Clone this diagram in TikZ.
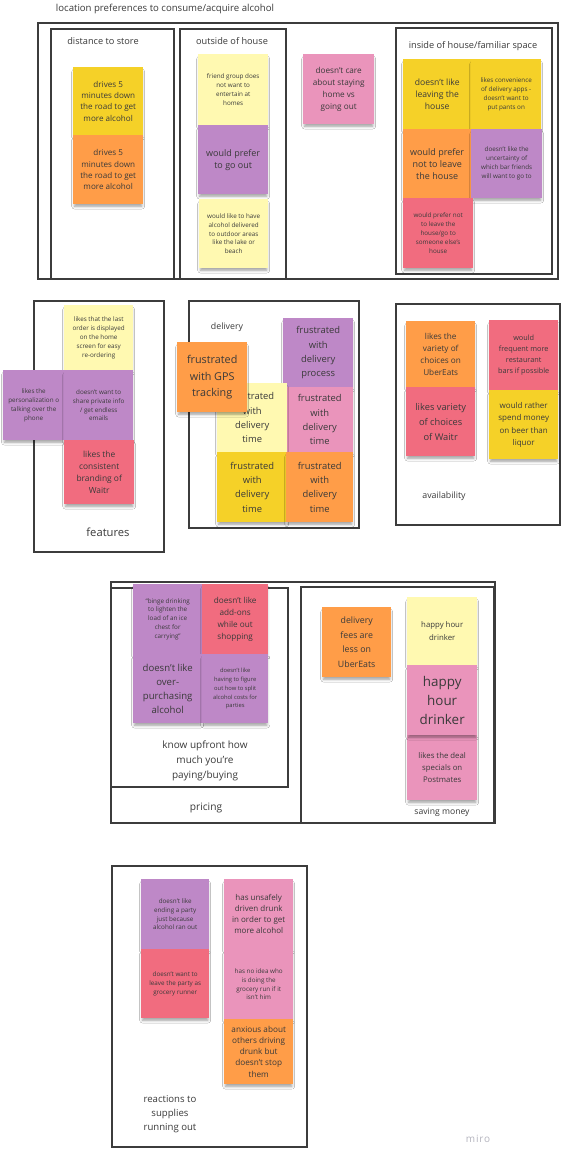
\documentclass[tikz,border=0pt]{standalone}
\usepackage{fontspec}
\setmainfont{Open Sans}
\usetikzlibrary{shadows.blur}
\definecolor{myyellow}{HTML}{F5D128}
\definecolor{mylight}{HTML}{FFF9B1}
\definecolor{myorange}{HTML}{FF9D48}
\definecolor{mypurple}{HTML}{BE88C7}
\definecolor{mypink}{HTML}{EA94BB}
\definecolor{myred}{HTML}{F16C7F}
\definecolor{textc}{HTML}{3A3A3A}
\definecolor{framec}{HTML}{3C3C3C}
\definecolor{miroc}{HTML}{B4B4BE}
\newcommand\fsS{\fontsize{6.3}{8.9}\selectfont}
\newcommand\fsM{\fontsize{8.1}{11.2}\selectfont}
\newcommand\fsL{\fontsize{9}{12}\selectfont}
\newcommand\fsF{\fontsize{9.4}{14.2}\selectfont}
\begin{document}
\begin{tikzpicture}[x=1pt,y=-1pt,
  frame/.style={draw=framec,line width=1.1pt},
  lbl/.style={text=textc,inner sep=0pt,align=center},
  sticky/.style={anchor=north west,inner sep=0pt,align=center,text=textc,
     minimum width=70pt,minimum height=70pt,
     blur shadow={shadow xshift=0pt,shadow yshift=-3.5pt,shadow scale=0.96,shadow blur radius=3pt,shadow opacity=40}},
]
\useasboundingbox (0,0) rectangle (562,1149);
\fill[white] (0,0) rectangle (562,1149);

% ---------- top section ----------
\node[lbl,font=\fontsize{9.6}{10}\selectfont] (title) at (165,9) {location preferences to consume/acquire alcohol};
\draw[frame] (38,23) rectangle (558,279);
\draw[frame] (51,29) rectangle (174,279);
\draw[frame] (180,29) rectangle (286,279);
\draw[frame] (396,28) rectangle (552,274);
\node[lbl,font=\fontsize{9.2}{10}\selectfont] (ldist) at (103,41) {distance to store};
\node[lbl,font=\fontsize{9.2}{10}\selectfont] (lout) at (232,41) {outside of house};
\node[lbl,font=\fontsize{9.2}{10}\selectfont] (lin) at (473,46) {inside of house/familiar space};

\node[sticky,fill=myyellow,minimum height=68pt,font=\fsM] (d1) at (73,67) {drives 5\\minutes down\\the road to get\\more alcohol};
\node[sticky,fill=myorange,minimum height=69pt,font=\fsM] (d2) at (73,135) {drives 5\\minutes down\\the road to get\\more alcohol};

\node[sticky,fill=mylight,minimum height=71pt,font=\fsS] (o1) at (198,54) {friend group does\\not want to\\entertain at\\homes};
\node[sticky,fill=mypurple,minimum height=69pt,font=\fsL] (o2) at (198,125) {would prefer\\to go out};
\node[sticky,fill=mylight,minimum width=69pt,minimum height=69pt,font=\fsS] (o3) at (199,199) {would like to have\\alcohol delivered\\to outdoor areas\\like the lake or\\beach};

\node[sticky,fill=mypink,minimum width=71pt,font=\fontsize{8.2}{12.2}\selectfont] (p1) at (303,54) {doesn't care\\about staying\\home vs\\going out};

\node[sticky,fill=myyellow,minimum width=68pt,font=\fontsize{8.6}{11.8}\selectfont] (i1) at (403,59) {doesn't like\\leaving the\\house};
\node[sticky,fill=myyellow,font=\fsS] (i2) at (471,59) {likes convenience\\of delivery apps -\\doesn't want to\\put pants on};
\node[sticky,fill=myorange,minimum width=68pt,minimum height=69pt,font=\fsL] (i3) at (403,129) {would prefer\\not to leave\\the house};
\node[sticky,fill=mypurple,minimum width=71pt,minimum height=69pt,font=\fsS] (i4) at (471,129) {doesn't like the\\uncertainty of\\which bar friends\\will want to go to};
\node[sticky,fill=myred,font=\fsS] (i5) at (403,198) {would prefer not\\to leave the\\house/go to\\someone else's\\house};

% ---------- features ----------
\draw[frame] (34,301) rectangle (164,552);
\node[sticky,fill=mylight,minimum width=69pt,minimum height=65pt,font=\fsS] (f1) at (64,305) {likes that the last\\order is displayed\\on the home\\screen for easy\\re-ordering};
\node[sticky,fill=mypurple,minimum width=61pt,font=\fsS] (f2) at (3,370) {likes the\\personalization o\\talking over the\\phone};
\node[sticky,fill=mypurple,minimum width=69pt,font=\fsS] (f3) at (64,370) {doesn't want to\\share private info\\/ get endless\\emails};
\node[sticky,fill=myred,minimum height=64pt,font=\fontsize{8.4}{12.2}\selectfont] (f4) at (64,440) {likes the\\consistent\\branding of\\Waitr};
\node[lbl,font=\fontsize{11.2}{12}\selectfont] (lfeat) at (108,532) {features};

% ---------- delivery ----------
\draw[frame] (189,301) rectangle (359,528);
\node[lbl,font=\fontsize{8.8}{10}\selectfont] (ldel) at (227,327) {delivery};
\node[sticky,fill=mypurple,minimum height=69pt,font=\fsF] (e1) at (283,318) {frustrated\\with\\delivery\\process};
\node[sticky,fill=mypink,minimum width=67pt,minimum height=65pt,font=\fsF] (e2) at (286,387) {frustrated\\with\\delivery\\time};
\node[sticky,fill=mylight,minimum height=69pt,font=\fsF] (e3) at (217,383) {frustrated\\with\\delivery\\time};
\node[sticky,fill=myyellow,font=\fsF] (e4) at (217,452) {frustrated\\with\\delivery\\time};
\node[sticky,fill=myorange,minimum width=67pt,font=\fsF] (e5) at (286,452) {frustrated\\with\\delivery\\time};
\node[sticky,fill=myorange,font=\fontsize{10.8}{16.5}\selectfont] (e6) at (177,342) {frustrated\\with GPS\\tracking};

% ---------- availability ----------
\draw[frame] (396,304) rectangle (560,525);
\node[sticky,fill=myorange,minimum width=69pt,minimum height=66pt,font=\fontsize{8.2}{12}\selectfont] (a1) at (406,321) {likes the\\variety of\\choices on\\UberEats};
\node[sticky,fill=myred,minimum width=69pt,minimum height=69pt,font=\fontsize{9.3}{15}\selectfont] (a2) at (406,387) {likes variety\\of choices\\of Waitr};
\node[sticky,fill=myred,minimum width=69pt,font=\fontsize{7.3}{11}\selectfont] (a3) at (489,320) {would\\frequent more\\restaurant\\bars if possible};
\node[sticky,fill=myyellow,minimum width=69pt,minimum height=69pt,font=\fontsize{8}{12.5}\selectfont] (a4) at (489,390) {would rather\\spend money\\on beer than\\liquor};
\node[lbl,font=\fontsize{8.8}{10}\selectfont] (lavail) at (444,496) {availability};

% ---------- pricing ----------
\draw[frame] (111,582) rectangle (495,823);
\draw[frame] (111,588) rectangle (288,787);
\draw[frame] (301,587) rectangle (494,823);
\node[sticky,fill=mypurple,minimum width=69pt,font=\fsS] (r1) at (133,584) {``binge drinking\\to lighten the\\load of an ice\\chest for\\carrying''};
\node[sticky,fill=myred,minimum width=66pt,font=\fontsize{8.2}{12.2}\selectfont] (r2) at (202,584) {doesn't like\\add-ons\\while out\\shopping};
\node[sticky,fill=mypurple,minimum width=69pt,minimum height=69pt,font=\fontsize{9.6}{14.2}\selectfont] (r3) at (133,654) {doesn't like\\over-\\purchasing\\alcohol};
\node[sticky,fill=mypurple,minimum width=66pt,minimum height=69pt,font=\fontsize{5.8}{8.8}\selectfont] (r4) at (202,654) {doesn't like\\having to figure\\out how to split\\alcohol costs for\\parties};
\node[lbl,font=\fontsize{10}{15}\selectfont] (lknow) at (205,761) {know upfront how\\much you're\\paying/buying};
\node[lbl,font=\fontsize{10.2}{11}\selectfont] (lpric) at (206,808) {pricing};

\node[sticky,fill=myorange,minimum width=69pt,font=\fontsize{8.8}{14.6}\selectfont] (s1) at (322,607) {delivery\\fees are\\less on\\UberEats};
\node[sticky,fill=mypink,minimum height=65pt,font=\fontsize{7.8}{12.3}\selectfont] (s4) at (407,735) {likes the deal\\specials on\\Postmates};
\node[sticky,fill=mylight,minimum height=68pt,font=\fontsize{7.8}{12.6}\selectfont] (s2) at (407,597) {happy hour\\drinker};
\node[sticky,fill=mypink,font=\fontsize{13.4}{19.2}\selectfont] (s3) at (407,665) {happy\\hour\\drinker};
\node[lbl,font=\fontsize{8.6}{10}\selectfont] (lsave) at (442,812) {saving money};

% ---------- reactions ----------
\draw[frame] (112,866) rectangle (307,1147);
\node[sticky,fill=mypurple,minimum width=68pt,font=\fsS] (t1) at (141,879) {doesn't like\\ending a party\\just because\\alcohol ran out};
\node[sticky,fill=myred,minimum width=68pt,minimum height=69pt,font=\fsS] (t2) at (141,949) {doesn't want to\\leave the party as\\grocery runner};
\node[sticky,fill=mypink,minimum width=69pt,font=\fontsize{8}{11}\selectfont] (t3) at (224,879) {has unsafely\\driven drunk\\in order to get\\more alcohol};
\node[sticky,fill=mypink,minimum width=69pt,font=\fsS] (t4) at (224,949) {has no idea who\\is doing the\\grocery run if it\\isn't him};
\node[sticky,fill=myorange,minimum width=69pt,minimum height=65pt,font=\fontsize{8.2}{11.2}\selectfont] (t5) at (224,1019) {anxious about\\others driving\\drunk but\\doesn't stop\\them};
\node[lbl,font=\fontsize{9.6}{14.3}\selectfont] (lreact) at (170,1114) {reactions to\\supplies\\running out};

\node[lbl,text=miroc,font=\fontsize{10}{10}\selectfont\addfontfeature{LetterSpace=8}] (miro) at (478,1139) {miro};
\end{tikzpicture}
\end{document}
